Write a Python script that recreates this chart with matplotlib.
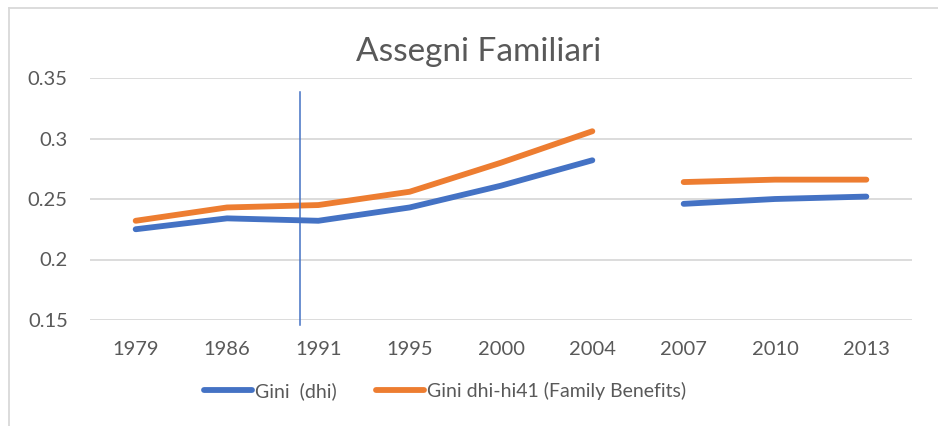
import matplotlib
matplotlib.use("Agg")
import matplotlib.pyplot as plt
from matplotlib.lines import Line2D
import numpy as np

years = ["1979", "1986", "1991", "1995", "2000", "2004", "2007", "2010", "2013"]
gini_dhi = [0.225, 0.234, 0.232, 0.243, 0.261, 0.282, 0.246, 0.250, 0.252]
gini_fb = [0.232, 0.243, 0.245, 0.256, 0.280, 0.306, 0.264, 0.266, 0.266]
break_after = 5  # series not connected between 2004 and 2007
yticks = [0.15, 0.2, 0.25, 0.3, 0.35]
ytick_labels = ["0.15", "0.2", "0.25", "0.3", "0.35"]
marker_pos = 1.8  # vertical marker line (between 1986 and 1991)

plt.rcParams['font.family'] = ['Lato', 'DejaVu Sans']
gray = "#595959"
blue = "#4472C4"
orange = "#ED7D31"

fig = plt.figure(figsize=(9.38, 4.26), dpi=100)
ax = fig.add_axes([90/938, 1-320/426, 822/938, 242/426])

x = np.arange(len(years))
for vals, col in [(gini_dhi, blue), (gini_fb, orange)]:
    v = np.array(vals)
    ax.plot(x[:break_after+1], v[:break_after+1], color=col, lw=4.2, solid_capstyle='round', zorder=3)
    ax.plot(x[break_after+1:], v[break_after+1:], color=col, lw=4.2, solid_capstyle='round', zorder=3)

ax.set_xlim(-0.5, len(years)-0.5)
ax.set_ylim(0.15, 0.35)
ax.set_yticks(yticks)
ax.set_yticklabels(ytick_labels)
ax.set_xticks(x)
ax.set_xticklabels(years)
ax.grid(axis='y', color='#D9D9D9', lw=1.3)
ax.set_axisbelow(True)
for s in ax.spines.values():
    s.set_visible(False)
ax.tick_params(axis='both', length=0, labelsize=14.5, colors=gray)
ax.tick_params(axis='x', pad=15)
ax.tick_params(axis='y', pad=16)

ax.axvline(marker_pos, ymin=-0.02, ymax=0.942, color=blue, lw=1.1, clip_on=False, zorder=4)

fig.text(479/938, 1-52/426, "Assegni Familiari", ha='center', va='center', fontsize=24, color=gray)

handles = [Line2D([], [], color=blue, lw=4.2, solid_capstyle='round'),
           Line2D([], [], color=orange, lw=4.2, solid_capstyle='round')]
fig.legend(handles, ["Gini  (dhi)", "Gini dhi-hi41 (Family Benefits)"], loc='center',
           bbox_to_anchor=(445/938, 1-391/426), ncol=2, frameon=False, fontsize=14,
           labelcolor=gray, handlelength=2.5, handletextpad=0.15, columnspacing=2.0)

# chart border (left and top visible)
fig.add_artist(Line2D([8.5/938, 8.5/938], [0, 1-7.5/426], transform=fig.transFigure, color='#D9D9D9', lw=1.3))
fig.add_artist(Line2D([8.5/938, 1], [1-7.5/426, 1-7.5/426], transform=fig.transFigure, color='#D9D9D9', lw=1.3))

fig.savefig("out.png", dpi=100)
